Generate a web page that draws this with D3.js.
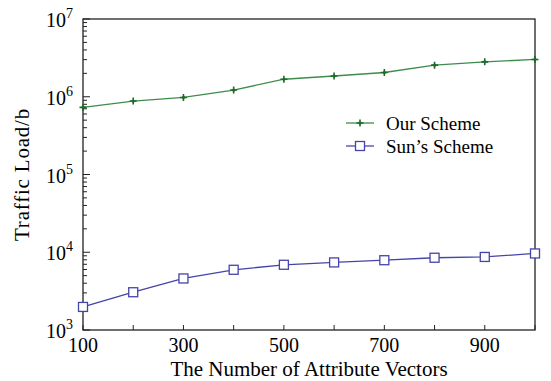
<!DOCTYPE html>
<html>
<head>
<meta charset="utf-8">
<script src="https://cdn.jsdelivr.net/npm/d3@7"></script>
<style>
  body { margin: 0; background: #fff; }
  svg { font-family: "Liberation Serif", "Times New Roman", serif; }
</style>
</head>
<body>
<script>
const vectors = [100, 200, 300, 400, 500, 600, 700, 800, 900, 1000];
const ourScheme = [7.3e5, 8.8e5, 9.8e5, 1.22e6, 1.68e6, 1.85e6, 2.05e6, 2.55e6, 2.81e6, 3.02e6];
const sunScheme = [1.98e3, 3.06e3, 4.6e3, 5.95e3, 6.9e3, 7.4e3, 7.9e3, 8.5e3, 8.7e3, 9.65e3];
const xLabels = [100, 300, 500, 700, 900];
const decades = [3, 4, 5, 6, 7];

const width = 551, height = 381;
const margin = {left: 83, right: 16, top: 19, bottom: 51};

const svg = d3.select("body").append("svg")
    .attr("width", width)
    .attr("height", height);

const x = d3.scaleLinear().domain([100, 1000]).range([margin.left, width - margin.right]);
const y = d3.scaleLog().domain([1e3, 1e7]).range([height - margin.bottom, margin.top]);

const green = "#3d8c4c", greenDark = "#1f6a2a";
const blue = "#4444aa";

// frame
svg.append("rect")
    .attr("x", x.range()[0]).attr("y", y.range()[1])
    .attr("width", x.range()[1] - x.range()[0])
    .attr("height", y.range()[0] - y.range()[1])
    .attr("fill", "none").attr("stroke", "#222").attr("stroke-width", 1.3);

// x ticks (inside)
svg.append("g").selectAll("line")
    .data(vectors)
    .join("line")
    .attr("x1", d => x(d)).attr("x2", d => x(d))
    .attr("y1", y.range()[0]).attr("y2", y.range()[0] - 5)
    .attr("stroke", "#222");

svg.append("g").selectAll("text")
    .data(xLabels)
    .join("text")
    .attr("x", d => x(d))
    .attr("y", y.range()[0] + 22)
    .attr("text-anchor", "middle")
    .attr("font-size", 20)
    .text(d => d);

// y ticks: major + minor inside
const minor = [];
decades.slice(0, -1).forEach(e => {
    for (let k = 2; k <= 9; k++) minor.push(k * Math.pow(10, e));
});
svg.append("g").selectAll("line")
    .data(minor)
    .join("line")
    .attr("x1", x.range()[0]).attr("x2", x.range()[0] + 4)
    .attr("y1", d => y(d)).attr("y2", d => y(d))
    .attr("stroke", "#222");
svg.append("g").selectAll("line")
    .data(decades)
    .join("line")
    .attr("x1", x.range()[0]).attr("x2", x.range()[0] + 7)
    .attr("y1", d => y(Math.pow(10, d))).attr("y2", d => y(Math.pow(10, d)))
    .attr("stroke", "#222");

const yl = svg.append("g").selectAll("text")
    .data(decades)
    .join("text")
    .attr("x", x.range()[0] - 10)
    .attr("y", d => y(Math.pow(10, d)) + 8)
    .attr("text-anchor", "end")
    .attr("font-size", 20);
yl.append("tspan").text("10");
yl.append("tspan").attr("dy", -9).attr("font-size", 14).text(d => d);

// axis titles
svg.append("text")
    .attr("x", (x.range()[0] + x.range()[1]) / 2)
    .attr("y", height - 5)
    .attr("text-anchor", "middle")
    .attr("font-size", 21)
    .text("The Number of Attribute Vectors");

svg.append("text")
    .attr("transform", `translate(29,${(y.range()[0] + y.range()[1]) / 2}) rotate(-90)`)
    .attr("text-anchor", "middle")
    .attr("font-size", 21)
    .attr("letter-spacing", 0.8)
    .text("Traffic Load/b");

// lines
const line = d3.line().x((d, i) => x(vectors[i])).y(d => y(d));

svg.append("path").datum(ourScheme)
    .attr("d", line).attr("fill", "none")
    .attr("stroke", green).attr("stroke-width", 1.3);
svg.append("path").datum(sunScheme)
    .attr("d", line).attr("fill", "none")
    .attr("stroke", blue).attr("stroke-width", 1.3);

function star(g, cx, cy) {
    g.append("path")
        .attr("d", `M${cx - 3.5},${cy}h7M${cx},${cy - 3.5}v7`)
        .attr("stroke", greenDark).attr("stroke-width", 1.6);
    g.append("circle").attr("cx", cx).attr("cy", cy).attr("r", 1.6).attr("fill", greenDark);
}
function square(g, cx, cy) {
    g.append("rect")
        .attr("x", cx - 4.5).attr("y", cy - 4.5)
        .attr("width", 9).attr("height", 9)
        .attr("fill", "#fff").attr("stroke", blue).attr("stroke-width", 1.3);
}

const markers = svg.append("g");
ourScheme.forEach((v, i) => star(markers, x(vectors[i]), y(v)));
sunScheme.forEach((v, i) => square(markers, x(vectors[i]), y(v)));

// legend
const legend = svg.append("g");
const items = [
    {name: "Our Scheme", color: green, mark: star, yy: 123},
    {name: "Sun\u2019s Scheme", color: blue, mark: square, yy: 146}
];
items.forEach(it => {
    legend.append("line")
        .attr("x1", 346).attr("x2", 374)
        .attr("y1", it.yy).attr("y2", it.yy)
        .attr("stroke", it.color).attr("stroke-width", 1.3);
    it.mark(legend, 360, it.yy);
    legend.append("text")
        .attr("x", 386).attr("y", it.yy + 7)
        .attr("font-size", 19)
        .text(it.name);
});
</script>
</body>
</html>
